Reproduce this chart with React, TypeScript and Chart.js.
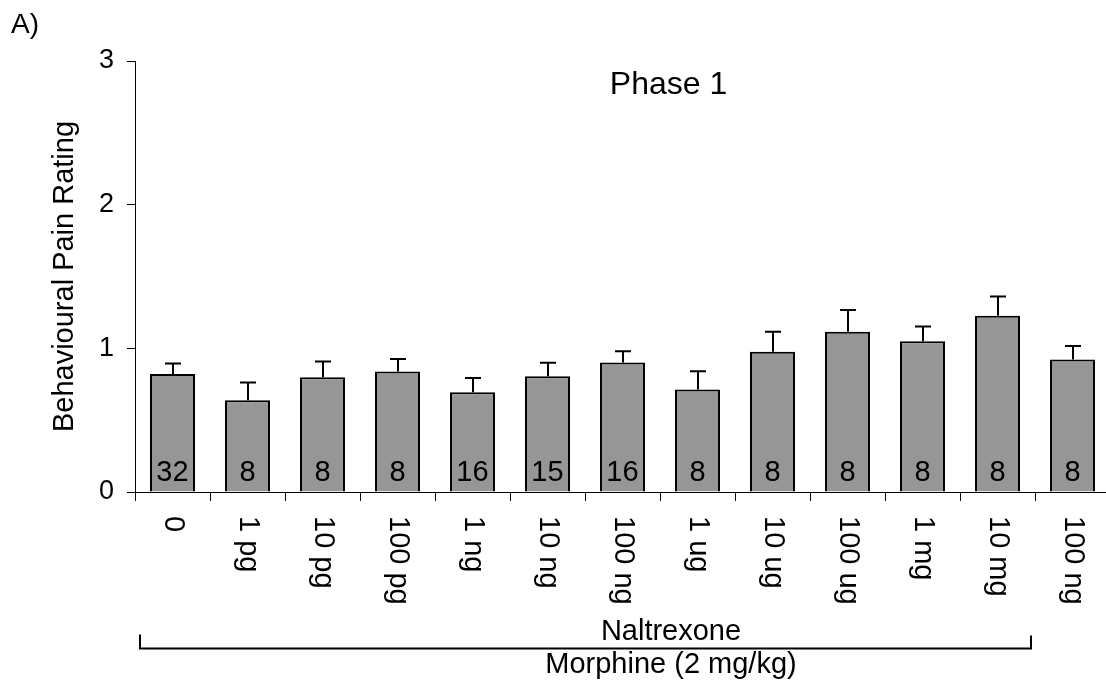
import React, { useEffect, useRef } from "react";
import { Chart, registerables } from "chart.js";

Chart.register(...registerables);

const categories = ["0", "1 pg", "10 pg", "100 pg", "1 ng", "10 ng", "100 ng", "1 ug", "10 ug", "100 ug", "1 mg", "10 mg", "100 ng"];
const means = [0.822, 0.639, 0.799, 0.838, 0.695, 0.806, 0.901, 0.713, 0.976, 1.115, 1.05, 1.226, 0.922];
const sems = [0.072, 0.123, 0.109, 0.087, 0.099, 0.093, 0.079, 0.128, 0.139, 0.151, 0.102, 0.135, 0.095];
const counts = [32, 8, 8, 8, 16, 15, 16, 8, 8, 8, 8, 8, 8];
const yMin = 0;
const yMax = 3;
const yStep = 1;

const panelLabel = "A)";
const chartTitle = "Phase 1";
const yTitle = "Behavioural Pain Rating";
const bracketLabel = "Naltrexone";
const groupLabel = "Morphine (2 mg/kg)";

const FONT = '"Liberation Sans", Arial, Helvetica, sans-serif';

export default function App() {
  const ref = useRef<HTMLCanvasElement>(null);

  useEffect(() => {
    if (!ref.current) return;

    const annot = {
      id: "annot",
      afterDatasetsDraw(chart: any) {
        const ctx = chart.ctx as CanvasRenderingContext2D;
        const xs = chart.scales.x;
        const ys = chart.scales.y;
        const area = chart.chartArea;
        ctx.save();

        // error bars
        ctx.strokeStyle = "#000";
        ctx.lineWidth = 2;
        means.forEach((m, i) => {
          const cx = Math.round(xs.getPixelForValue(i));
          const top = ys.getPixelForValue(m);
          const cap = ys.getPixelForValue(m + sems[i]);
          ctx.beginPath();
          ctx.moveTo(cx, top);
          ctx.lineTo(cx, cap);
          ctx.moveTo(cx - 8, cap);
          ctx.lineTo(cx + 8, cap);
          ctx.stroke();
        });

        // counts inside bars
        ctx.fillStyle = "#000";
        ctx.font = `29px ${FONT}`;
        ctx.textAlign = "center";
        ctx.textBaseline = "alphabetic";
        const y0 = ys.getPixelForValue(0);
        counts.forEach((n, i) => {
          ctx.fillText(String(n), xs.getPixelForValue(i), y0 - 11);
        });

        // rotated x labels (reading top to bottom)
        ctx.font = `29px ${FONT}`;
        categories.forEach((lab, i) => {
          ctx.save();
          ctx.translate(xs.getPixelForValue(i), y0 + 24);
          ctx.rotate(Math.PI / 2);
          ctx.textAlign = "left";
          ctx.textBaseline = "middle";
          ctx.fillText(lab, 0, 0);
          ctx.restore();
        });

        // y title
        ctx.save();
        ctx.translate(65, (area.top + area.bottom) / 2);
        ctx.rotate(-Math.PI / 2);
        ctx.textAlign = "center";
        ctx.textBaseline = "middle";
        ctx.font = `29px ${FONT}`;
        ctx.fillText(yTitle, 0, 0);
        ctx.restore();

        // panel label
        ctx.textAlign = "left";
        ctx.textBaseline = "alphabetic";
        ctx.font = `28px ${FONT}`;
        ctx.fillText(panelLabel, 11, 33);

        // phase title
        ctx.textAlign = "center";
        ctx.font = `32px ${FONT}`;
        ctx.fillText(chartTitle, 668.5, 94);

        // bracket
        const bl = xs.left + 5;
        const br = xs.getPixelForValue(11.5) - 4;
        const by = y0 + 156.5;
        ctx.lineWidth = 2;
        ctx.beginPath();
        ctx.moveTo(bl, by - 14);
        ctx.lineTo(bl, by);
        ctx.lineTo(br, by);
        ctx.lineTo(br, by - 13);
        ctx.stroke();

        ctx.font = `29px ${FONT}`;
        ctx.fillText(bracketLabel, 671, 640);
        ctx.fillText(groupLabel, 671, 673);

        ctx.restore();
      },
    };

    const chart = new Chart(ref.current, {
      type: "bar",
      data: {
        labels: categories,
        datasets: [
          {
            data: means,
            backgroundColor: "#969696",
            borderColor: "#000",
            borderWidth: 2,
            barPercentage: 0.6,
            categoryPercentage: 1,
          },
        ],
      },
      options: {
        animation: false,
        responsive: false,
        devicePixelRatio: 1,
        layout: { padding: { top: 61, right: 2, left: 0, bottom: 0 } },
        plugins: {
          legend: { display: false },
          tooltip: { enabled: false },
          title: { display: false },
        },
        scales: {
          x: {
            offset: true,
            grid: {
              offset: true,
              drawOnChartArea: false,
              drawTicks: true,
              tickLength: 9,
              color: "#000",
              lineWidth: 1,
            },
            border: { display: true, color: "#000", width: 1 },
            ticks: { display: false },
            afterFit: (s: any) => {
              s.height = 193;
            },
          },
          y: {
            min: yMin,
            max: yMax,
            grid: {
              drawOnChartArea: false,
              drawTicks: true,
              tickLength: 8,
              color: "#000",
              lineWidth: 1,
            },
            border: { display: true, color: "#000", width: 1 },
            ticks: {
              stepSize: yStep,
              color: "#000",
              padding: 13,
              font: { family: FONT, size: 27 },
            },
            afterFit: (s: any) => {
              s.width = 135;
            },
          },
        },
      },
      plugins: [annot],
    });

    return () => chart.destroy();
  }, []);

  return (
    <div
      style={{
        position: "fixed",
        left: 0,
        top: 0,
        width: 1106,
        height: 685,
        overflow: "hidden",
        background: "#fff",
      }}
    >
      <canvas ref={ref} width={1112} height={685} style={{ width: 1112, height: 685, display: "block" }} />
    </div>
  );
}
